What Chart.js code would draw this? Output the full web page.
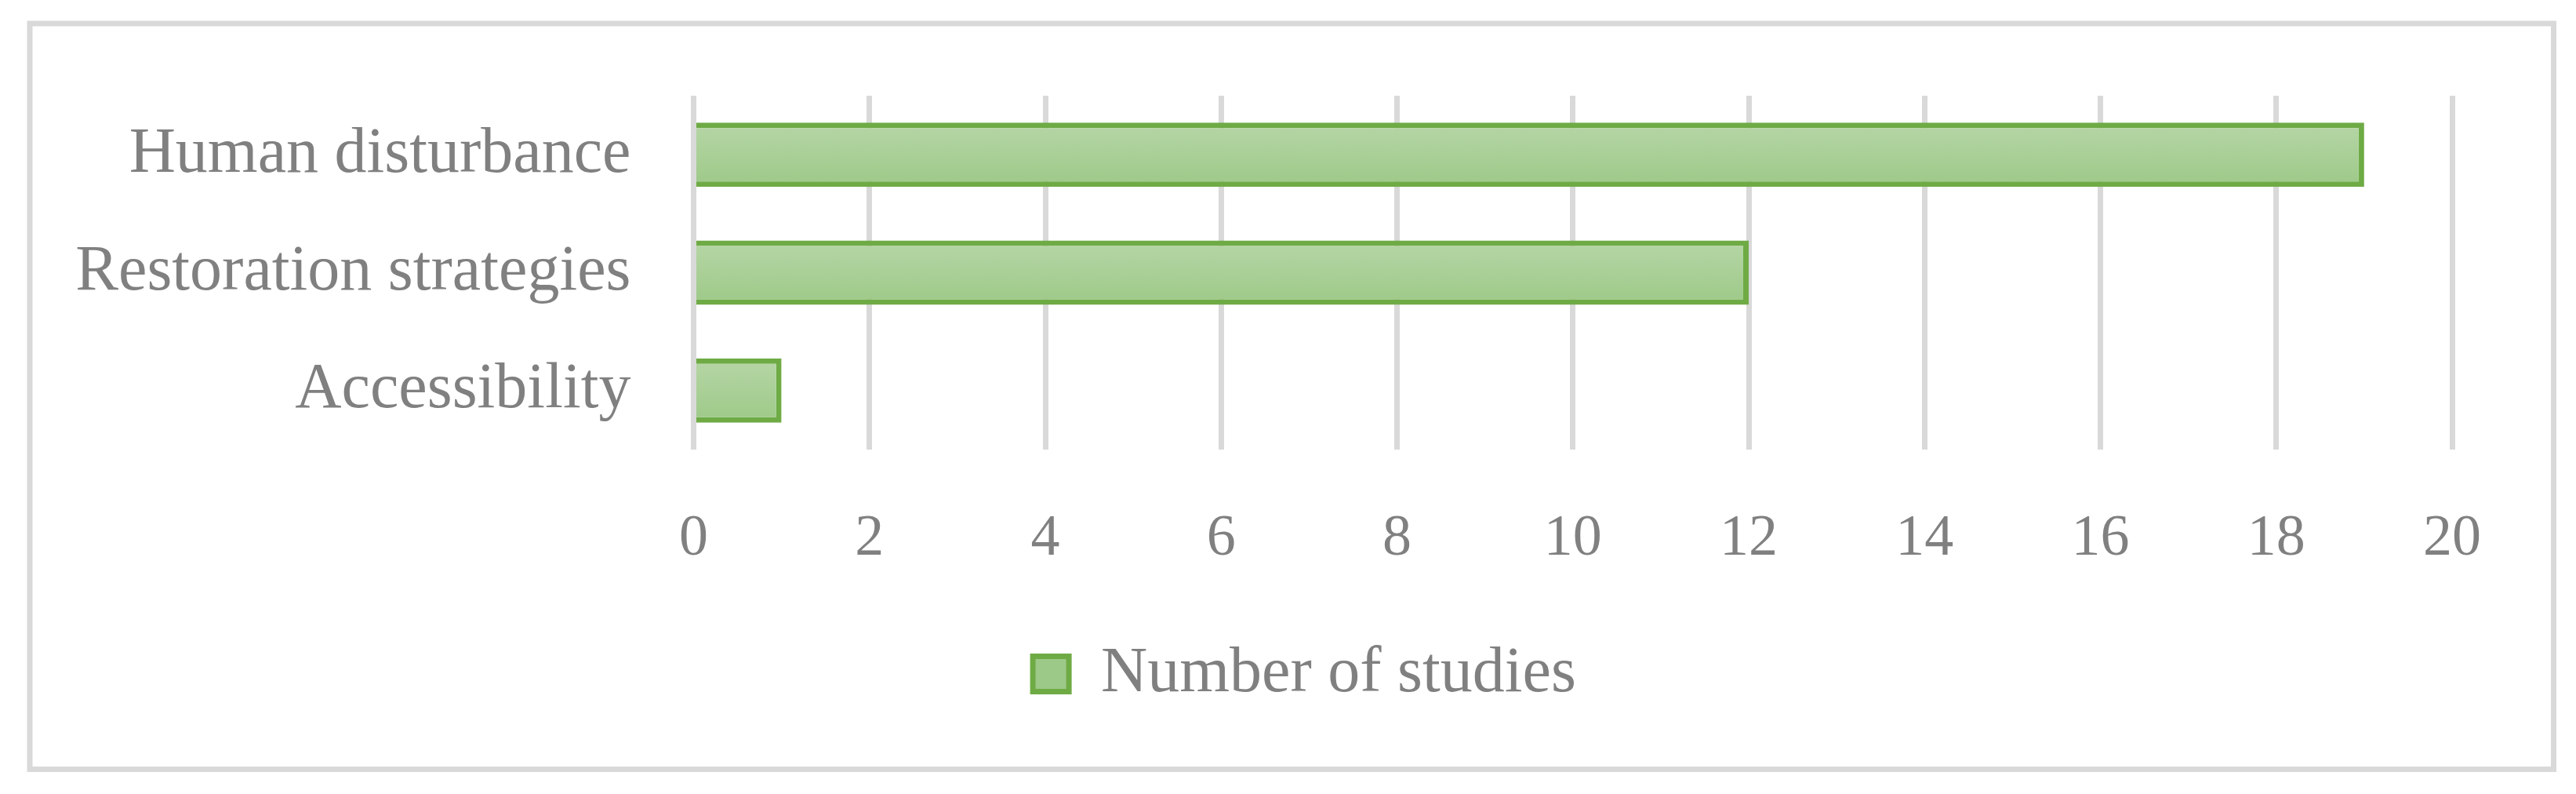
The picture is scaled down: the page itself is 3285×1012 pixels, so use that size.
<!DOCTYPE html>
<html>
<head>
<meta charset="utf-8">
<script src="https://cdn.jsdelivr.net/npm/chart.js@4/dist/chart.umd.min.js"></script>
<style>
  html, body { margin: 0; padding: 0; background: #ffffff; }
  #wrap { width: 3285px; height: 1012px; position: relative; }
  canvas { display: block; }
</style>
</head>
<body>
<div id="wrap"><canvas id="c" width="3285" height="1012"></canvas></div>
<script>
const categories = ["Human disturbance", "Restoration strategies", "Accessibility"];
const seriesLabel = "Number of studies";
const studies = [19, 12, 1];
const xTicks = [0, 2, 4, 6, 8, 10, 12, 14, 16, 18, 20];

const GRAY = '#808080';
const GRID = '#d9d9d9';
const EDGE = '#6fab45';
const FILL = 'rgb(170,208,152)';
const FONT = "'Liberation Serif', 'DejaVu Serif', serif";

function barGradient(ctx, top, bottom) {
  if (!isFinite(top) || !isFinite(bottom) || bottom <= top) return FILL;
  const g = ctx.createLinearGradient(0, top, 0, bottom);
  g.addColorStop(0, 'rgb(182,214,166)');
  g.addColorStop(1, 'rgb(157,201,136)');
  return g;
}

const framePlugin = {
  id: 'frame',
  beforeDraw(chart) {
    const ctx = chart.ctx;
    ctx.save();
    ctx.fillStyle = '#ffffff';
    ctx.fillRect(0, 0, chart.width, chart.height);
    ctx.strokeStyle = GRID;
    ctx.lineWidth = 7;
    ctx.strokeRect(38, 30, 3256.5 - 38, 980.5 - 30);
    ctx.restore();
    if (chart.legend && !chart.legend._shifted) {
      chart.legend.left += 100;
      chart.legend.right += 100;
      chart.legend._shifted = true;
    }
  }
};

const chart = new Chart(document.getElementById('c'), {
  type: 'bar',
  data: {
    labels: categories,
    datasets: [{
      label: seriesLabel,
      data: studies,
      backgroundColor(context) {
        const c = context.chart;
        if (context.type !== 'data') {
          return barGradient(c.ctx, 830, 882);
        }
        const y = c.scales && c.scales.y;
        if (!y || !isFinite(y.top) || !isFinite(y.bottom) || y.bottom <= y.top) return FILL;
        const center = y.getPixelForValue(context.dataIndex);
        const step = (y.bottom - y.top) / categories.length;
        const half = step * 0.546 / 2;
        return barGradient(c.ctx, center - half, center + half);
      },
      borderColor: EDGE,
      borderWidth: 7,
      borderSkipped: 'start',
      categoryPercentage: 1,
      barPercentage: 0.546
    }]
  },
  options: {
    indexAxis: 'y',
    responsive: false,
    animation: false,
    devicePixelRatio: 1,
    layout: { padding: { left: 0, right: 158, top: 122, bottom: 102 } },
    scales: {
      x: {
        min: 0,
        max: 20,
        afterBuildTicks(scale) { scale.ticks = xTicks.map(v => ({ value: v })); },
        afterFit(scale) { scale.height = 235; },
        grid: { color: GRID, lineWidth: 7, drawTicks: false },
        border: { display: false },
        ticks: {
          color: GRAY,
          padding: 70,
          font: { family: FONT, size: 74 }
        }
      },
      y: {
        afterFit(scale) { scale.width = 884.5; },
        grid: { display: false, drawTicks: false },
        border: { display: false },
        ticks: {
          color: GRAY,
          padding: 80,
          font: { family: FONT, size: 82, lineHeight: 1.0 }
        }
      }
    },
    plugins: {
      legend: {
        position: 'bottom',
        labels: {
          color: GRAY,
          boxWidth: 46,
          boxHeight: 45,
          padding: 10,
          font: { family: FONT, size: 82 }
        }
      },
      tooltip: { enabled: false }
    }
  },
  plugins: [framePlugin]
});
</script>
</body>
</html>
